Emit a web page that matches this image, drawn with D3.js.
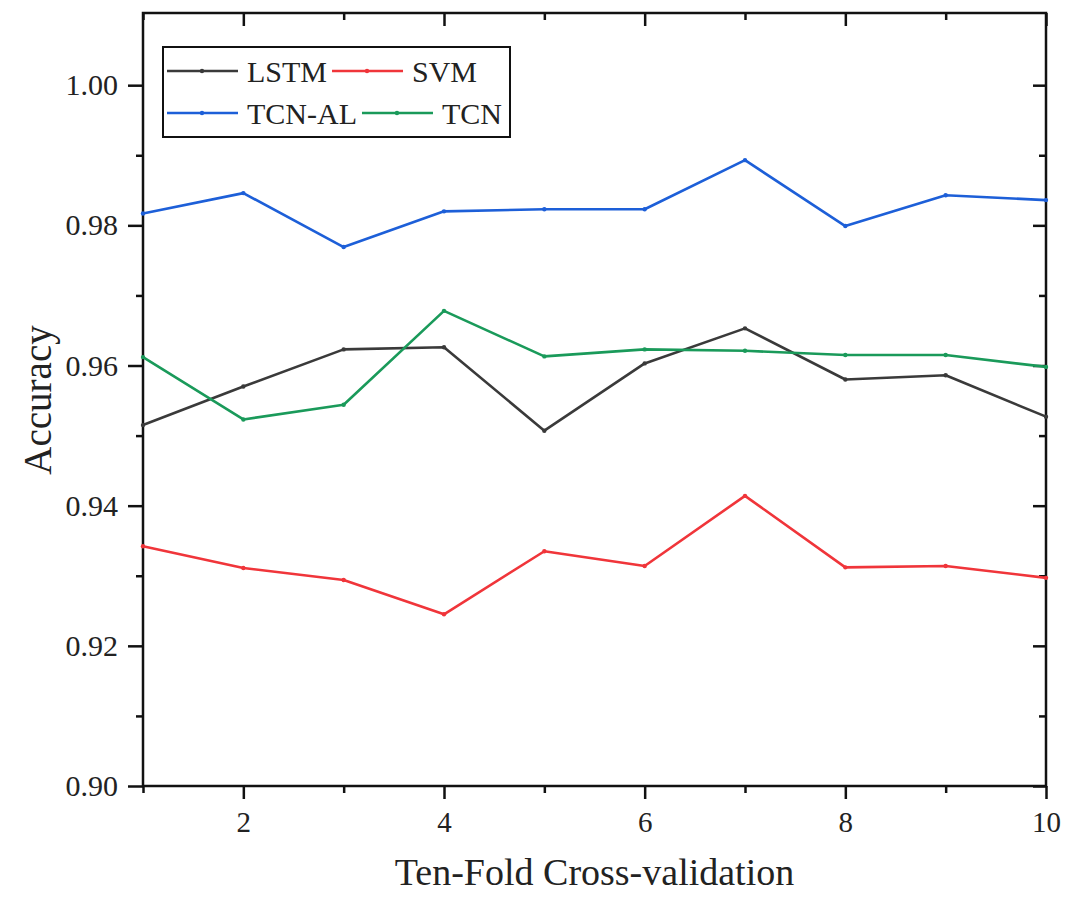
<!DOCTYPE html>
<html>
<head>
<meta charset="utf-8">
<script src="https://cdn.jsdelivr.net/npm/d3@7"></script>
<style>
  body { margin: 0; background: #fff; }
  svg { display: block; }
  text { font-family: "Liberation Serif", "Times New Roman", serif; fill: #222; }
</style>
</head>
<body>
<svg id="chart" width="1089" height="907"></svg>
<script>
// folds 1..10
let folds = [1, 2, 3, 4, 5, 6, 7, 8, 9, 10];

let lstm  = [0.9515, 0.9570, 0.9623, 0.9626, 0.9507, 0.9603, 0.9653, 0.9580, 0.9586, 0.9527];
let svm   = [0.9342, 0.9311, 0.9294, 0.9245, 0.9335, 0.9314, 0.9414, 0.9312, 0.9314, 0.9297];
let tcnAl = [0.9817, 0.9846, 0.9769, 0.9820, 0.9823, 0.9823, 0.9893, 0.9799, 0.9843, 0.9836];
let tcn   = [0.9612, 0.9523, 0.9544, 0.9678, 0.9613, 0.9623, 0.9621, 0.9615, 0.9615, 0.9598];

let seriesNames = ['LSTM', 'SVM', 'TCN-AL', 'TCN'];
let xTicks = [2, 4, 6, 8, 10];
let xMinor = [1, 3, 5, 7, 9];
let yTicks = [0.90, 0.92, 0.94, 0.96, 0.98, 1.00];
let yMinor = [0.91, 0.93, 0.95, 0.97, 0.99];

let colors = ['#3a3a3a', '#f0353a', '#1d5fd8', '#1a9a5a'];
let allSeries = [lstm, svm, tcnAl, tcn];

let svg = d3.select('#chart');

let plotLeft = 143, plotRight = 1046, plotTop = 13, plotBottom = 786;

let xScale = d3.scaleLinear()
	.domain([1, 10])
	.range([plotLeft, plotRight]);

let yScale = d3.scaleLinear()
	.domain([0.90, 1.0103])
	.range([plotBottom, plotTop]);

// axes (bottom/left outward, top/right inward)
function styleAxis(g) {
	g.attr('font-family', null);
	g.select('.domain').remove();
	g.selectAll('.tick line').attr('stroke', '#111').attr('stroke-width', 2.5);
}

svg.append('g')
	.attr('transform', `translate(0, ${plotBottom})`)
	.call(d3.axisBottom(xScale).tickValues(xTicks).tickSize(13).tickPadding(12).tickFormat(d3.format('d')))
	.call(styleAxis)
	.selectAll('text').style('font-size', '29px').attr('fill', '#222');

svg.append('g')
	.attr('transform', `translate(0, ${plotBottom})`)
	.call(d3.axisBottom(xScale).tickValues(xMinor).tickSize(7).tickFormat(''))
	.call(styleAxis);

svg.append('g')
	.attr('transform', `translate(${plotLeft}, 0)`)
	.call(d3.axisLeft(yScale).tickValues(yTicks).tickSize(15).tickPadding(10).tickFormat(d3.format('.2f')))
	.call(styleAxis)
	.selectAll('text').style('font-size', '30px').attr('fill', '#222');

svg.append('g')
	.attr('transform', `translate(${plotLeft}, 0)`)
	.call(d3.axisLeft(yScale).tickValues(yMinor).tickSize(7).tickFormat(''))
	.call(styleAxis);

// mirrored inward ticks
svg.append('g')
	.attr('transform', `translate(0, ${plotTop})`)
	.call(d3.axisTop(xScale).tickValues(xTicks).tickSize(-13).tickFormat(''))
	.call(styleAxis);
svg.append('g')
	.attr('transform', `translate(0, ${plotTop})`)
	.call(d3.axisTop(xScale).tickValues(xMinor).tickSize(-7).tickFormat(''))
	.call(styleAxis);
svg.append('g')
	.attr('transform', `translate(${plotRight}, 0)`)
	.call(d3.axisRight(yScale).tickValues(yTicks).tickSize(-13).tickFormat(''))
	.call(styleAxis);
svg.append('g')
	.attr('transform', `translate(${plotRight}, 0)`)
	.call(d3.axisRight(yScale).tickValues(yMinor).tickSize(-7).tickFormat(''))
	.call(styleAxis);

// frame
svg.append('rect')
	.attr('x', plotLeft)
	.attr('y', plotTop)
	.attr('width', plotRight - plotLeft)
	.attr('height', plotBottom - plotTop)
	.attr('fill', 'none')
	.attr('stroke', '#111')
	.attr('stroke-width', 2.5);

// lines
let line = d3.line()
	.x((d, i) => xScale(folds[i]))
	.y(d => yScale(d));

allSeries.forEach((values, k) => {
	svg.append('path')
		.datum(values)
		.attr('fill', 'none')
		.attr('stroke', colors[k])
		.attr('stroke-width', 2.6)
		.attr('stroke-linejoin', 'round')
		.attr('d', line);

	svg.append('g')
		.selectAll('circle')
		.data(values)
		.enter()
		.append('circle')
			.attr('cx', (d, i) => xScale(folds[i]))
			.attr('cy', d => yScale(d))
			.attr('r', 2.2)
			.attr('fill', colors[k]);
});

// axis titles
svg.append('text')
	.attr('x', (plotLeft + plotRight) / 2)
	.attr('y', 885)
	.attr('text-anchor', 'middle')
	.style('font-size', '38px')
	.text('Ten-Fold Cross-validation');

svg.append('text')
	.attr('transform', `translate(51, 400) rotate(-90)`)
	.attr('text-anchor', 'middle')
	.style('font-size', '39px')
	.text('Accuracy');

// legend
let legend = svg.append('g');
legend.append('rect')
	.attr('x', 163)
	.attr('y', 47)
	.attr('width', 347)
	.attr('height', 90)
	.attr('fill', '#fff')
	.attr('stroke', '#111')
	.attr('stroke-width', 2);

let rows = [[0, 1], [2, 3]];
rows.forEach((row, r) => {
	let cy = 71 + r * 42;
	let x = 167;
	row.forEach(k => {
		legend.append('line')
			.attr('x1', x).attr('x2', x + 71)
			.attr('y1', cy).attr('y2', cy)
			.attr('stroke', colors[k])
			.attr('stroke-width', 2.5);
		legend.append('circle')
			.attr('cx', x + 35).attr('cy', cy).attr('r', 2.2)
			.attr('fill', colors[k]);
		let t = legend.append('text')
			.attr('x', x + 80)
			.attr('y', cy + 11)
			.style('font-size', '30px')
			.text(seriesNames[k]);
		x = x + 80 + t.node().getComputedTextLength() + 5;
	});
});
</script>
</body>
</html>
